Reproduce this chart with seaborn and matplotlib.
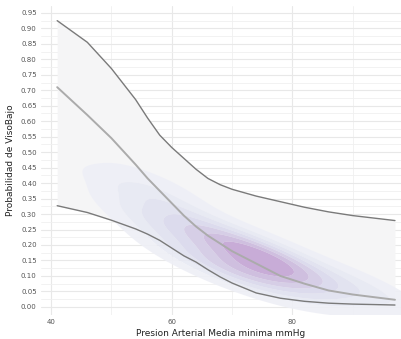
import matplotlib
matplotlib.use("Agg")
import matplotlib.pyplot as plt
import seaborn as sns
import numpy as np
import pandas as pd
from matplotlib.ticker import MultipleLocator
from matplotlib.colors import LinearSegmentedColormap

# Fitted curve (logistic prediction) with confidence band
pam = [41, 46, 50, 54, 56, 58, 60, 62, 64, 66, 68, 70, 74, 78, 82, 86, 90, 97]
prob_fit = [0.71, 0.62, 0.545, 0.46, 0.415, 0.375, 0.335, 0.295, 0.26, 0.23, 0.205, 0.18, 0.14, 0.10, 0.075, 0.053, 0.04, 0.023]
prob_upper = [0.925, 0.855, 0.77, 0.67, 0.61, 0.555, 0.515, 0.48, 0.445, 0.415, 0.395, 0.38, 0.358, 0.34, 0.322, 0.307, 0.295, 0.279]
prob_lower = [0.327, 0.305, 0.28, 0.252, 0.235, 0.215, 0.19, 0.165, 0.145, 0.12, 0.097, 0.077, 0.045, 0.028, 0.018, 0.012, 0.009, 0.006]

# Observations used for the 2D density cloud
obs_x = [53, 55, 57, 58, 59, 60, 61, 62, 63, 64, 65, 66, 67, 68, 69, 70, 70, 71, 72, 72,
         73, 73, 74, 74, 75, 75, 76, 76, 77, 77, 78, 79, 79, 80, 82, 83, 85, 88, 91, 95]
obs_y = [0.38, 0.31, 0.40, 0.26, 0.34, 0.22, 0.30, 0.26, 0.17, 0.23, 0.14, 0.27, 0.19, 0.12, 0.21, 0.15, 0.20, 0.10, 0.19, 0.11,
         0.20, 0.145, 0.10, 0.19, 0.14, 0.085, 0.19, 0.12, 0.15, 0.095, 0.13, 0.16, 0.08, 0.11, 0.13, 0.06, 0.09, 0.05, 0.08, 0.03]

curve = pd.DataFrame({"x": pam, "fit": prob_fit, "up": prob_upper, "lo": prob_lower})
obs = pd.DataFrame({"x": obs_x, "y": obs_y})

sns.set_theme(style="white")
fig = plt.figure(figsize=(4.01, 3.39), dpi=100)
ax = fig.add_axes([0.102, 0.071, 0.898, 0.911])

ax.fill_between(curve["x"], curve["lo"], curve["up"], color="#f5f5f6", linewidth=0, zorder=1)

dens_cmap = LinearSegmentedColormap.from_list(
    "dens", ["#f1f2f8", "#e4e6f2", "#d9d7eb", "#ccbbde", "#bf99cf"])
sns.kdeplot(data=obs, x="x", y="y", fill=True, cmap=dens_cmap,
            levels=[0.04, 0.15, 0.28, 0.42, 0.56, 0.7, 0.84, 1.0],
            bw_adjust=1.15, alpha=0.9, antialiased=True, ax=ax, zorder=2)

sns.lineplot(data=curve, x="x", y="up", color="#7a7a7a", linewidth=1.0, ax=ax, zorder=3)
sns.lineplot(data=curve, x="x", y="lo", color="#7a7a7a", linewidth=1.0, ax=ax, zorder=3)
sns.lineplot(data=curve, x="x", y="fit", color="#ababab", linewidth=1.4, ax=ax, zorder=3)

ax.set_xlim(38.3, 98.0)
ax.set_ylim(-0.026, 0.972)
ax.xaxis.set_minor_locator(MultipleLocator(10))
ax.yaxis.set_minor_locator(MultipleLocator(0.025))
ax.set_xticks([40, 60, 80])
ax.set_xticklabels(["40", "60", "80"])
yt = np.arange(0, 0.951, 0.05)
ax.set_yticks(yt)
ax.set_yticklabels([f"{v:.2f}" for v in yt])

ax.grid(True, which="major", color="#e8e8e8", linewidth=0.8)
ax.grid(True, which="minor", color="#f0f0f0", linewidth=0.6)
ax.set_axisbelow(True)
for s in ax.spines.values():
    s.set_visible(False)
ax.tick_params(axis="both", which="both", length=0, labelsize=5, labelcolor="#555555", pad=3)

ax.set_xlabel("Presion Arterial Media minima mmHg", fontsize=6.5, color="#222222", labelpad=3)
ax.set_ylabel("Probabilidad de VisoBajo", fontsize=6.5, color="#222222", labelpad=4)

fig.savefig("out.png", dpi=100)
